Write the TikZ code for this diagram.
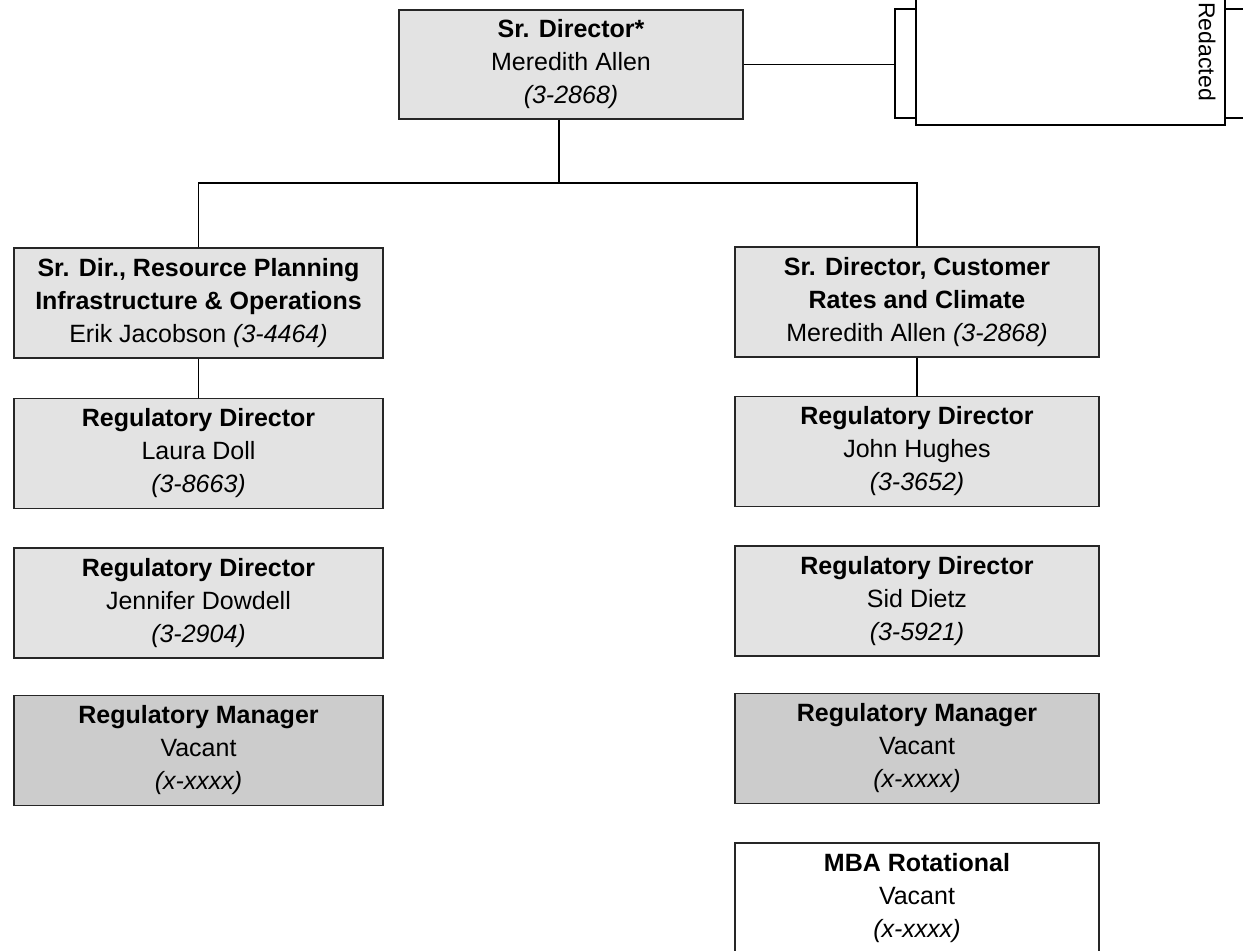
\documentclass[tikz,border=0pt]{standalone}
\usepackage{fontspec}
\setmainfont{Liberation Sans}
\usepackage{tikz}
\usetikzlibrary{
	calc,
	positioning,
	}

\tikzset{
	post/.style={draw=black!85, line width=0.75pt, fill=gray!22, align=center,
		minimum height=55pt, inner sep=2pt, font=\fontsize{12.5}{16.5}\selectfont},
	vacantpost/.style={post, fill=gray!40},
	leftcol/.style={minimum width=184.5pt},
	rightcol/.style={minimum width=182pt},
	}

\begin{document}
\begin{tikzpicture}[x=0.5pt, y=-0.5pt]
		\useasboundingbox (0,0) rectangle (1243,951);
		% redacted side box
		\draw[line width=0.75pt, fill=white] (895,9) rectangle (1260,118);
		\draw[line width=0.75pt, fill=white] (916,-5) rectangle (1225,125);
		\node[rotate=-90, anchor=west, inner sep=0, font=\fontsize{11.5}{14}\selectfont] (redacted) at (1207,2) {Redacted};
		\coordinate (side) at (895,64.5);

		\node[post, minimum width=172pt, minimum height=54.5pt] (top) at (571,64.5) {\textbf{Sr. Director*}\\Meredith Allen\\\textit{(3-2868)}};
		\node[post, leftcol] (resource) at (198.5,303) {\textbf{Sr. Dir., Resource Planning}\\\textbf{Infrastructure \& Operations}\\Erik Jacobson \textit{(3-4464)}};
		\node[post, rightcol] (customer) at (917,302) {\textbf{Sr. Director, Customer}\\\textbf{Rates and Climate}\\Meredith Allen \textit{(3-2868)}};

		\node[post, leftcol, below = 19.5pt of resource] (doll) {\textbf{Regulatory Director}\\Laura Doll\\\textit{(3-8663)}};
		\node[post, leftcol, below = 19pt of doll] (dowdell) {\textbf{Regulatory Director}\\Jennifer Dowdell\\\textit{(3-2904)}};
		\node[vacantpost, leftcol, below = 18pt of dowdell] (mgrL) {\textbf{Regulatory Manager}\\Vacant\\\textit{(x-xxxx)}};

		\node[post, rightcol, below = 19pt of customer] (hughes) {\textbf{Regulatory Director}\\John Hughes\\\textit{(3-3652)}};
		\node[post, rightcol, below = 19pt of hughes] (dietz) {\textbf{Regulatory Director}\\Sid Dietz\\\textit{(3-5921)}};
		\node[vacantpost, rightcol, below = 18pt of dietz] (mgrR) {\textbf{Regulatory Manager}\\Vacant\\\textit{(x-xxxx)}};
		\node[post, rightcol, fill=white, below = 19pt of mgrR] (mba) {\textbf{MBA Rotational}\\Vacant\\\textit{(x-xxxx)}};

		\coordinate (split) at (559,183);
		\draw[line width=0.75pt] (top.east) -- (side);
		\draw[line width=0.75pt] (top.south -| split) -- (split);
		\draw[line width=0.75pt] (resource.north) |- (split) -| (customer.north);
		\draw[line width=0.75pt] (resource) -- (doll);
		\draw[line width=0.75pt] (customer) -- (hughes);
	\end{tikzpicture}
\end{document}
